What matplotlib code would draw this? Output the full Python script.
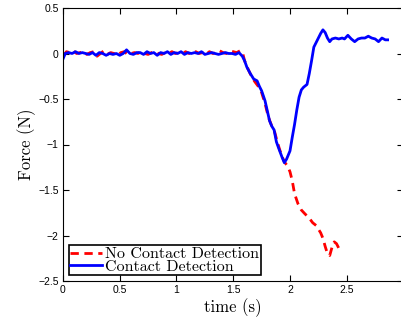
import matplotlib
matplotlib.use("Agg")
import matplotlib.pyplot as plt

# contact detection run
blue_t = [0.00, 0.02, 0.05, 0.08, 0.11, 0.14, 0.17, 0.20, 0.23, 0.26, 0.29, 0.32, 0.35,
          0.38, 0.41, 0.44, 0.47, 0.50, 0.53, 0.56, 0.59, 0.62, 0.65, 0.68, 0.71, 0.74,
          0.77, 0.80, 0.83, 0.86, 0.89, 0.92, 0.95, 0.98, 1.01, 1.04, 1.07, 1.10, 1.13,
          1.16, 1.19, 1.22, 1.25, 1.28, 1.31, 1.34, 1.37, 1.40, 1.43, 1.46, 1.49, 1.52,
          1.55, 1.58, 1.60, 1.62, 1.65, 1.68, 1.71, 1.73, 1.75, 1.78, 1.80, 1.82, 1.84,
          1.86, 1.88, 1.90, 1.93, 1.95, 1.97, 2.00, 2.02, 2.04, 2.06, 2.08, 2.10, 2.12,
          2.15, 2.17, 2.19, 2.21, 2.23, 2.25, 2.27, 2.29, 2.31, 2.33, 2.35, 2.37, 2.40,
          2.43, 2.46, 2.48, 2.51, 2.54, 2.57, 2.60, 2.63, 2.66, 2.69, 2.72, 2.75, 2.78,
          2.81, 2.84, 2.86]
blue_f = [-0.06, 0.00, 0.01, 0.00, 0.02, 0.00, 0.01, 0.00, -0.01, 0.01, -0.02, 0.01, 0.00,
          -0.02, 0.00, -0.01, 0.00, -0.02, 0.00, 0.04, 0.00, -0.01, 0.01, 0.01, -0.01, 0.02,
          0.00, 0.01, -0.02, 0.01, 0.00, 0.02, -0.01, 0.01, 0.00, 0.02, -0.01, 0.01, 0.00,
          0.01, 0.00, 0.02, -0.01, 0.00, 0.01, 0.00, -0.01, 0.00, 0.01, 0.00, 0.00, -0.01,
          0.01, -0.03, -0.08, -0.15, -0.22, -0.28, -0.30, -0.36, -0.41, -0.52, -0.63, -0.74, -0.80,
          -0.84, -0.97, -1.04, -1.14, -1.20, -1.16, -1.07, -0.92, -0.78, -0.62, -0.48, -0.40, -0.37,
          -0.34, -0.22, -0.08, 0.07, 0.12, 0.17, 0.22, 0.26, 0.23, 0.17, 0.13, 0.16, 0.17,
          0.16, 0.17, 0.16, 0.20, 0.16, 0.13, 0.16, 0.17, 0.17, 0.19, 0.17, 0.16, 0.13,
          0.17, 0.15, 0.15]

# no contact detection run
red_t = [0.00, 0.03, 0.06, 0.09, 0.12, 0.15, 0.18, 0.21, 0.24, 0.27, 0.30, 0.33, 0.36,
         0.39, 0.42, 0.45, 0.48, 0.51, 0.54, 0.57, 0.60, 0.63, 0.66, 0.69, 0.72, 0.75,
         0.78, 0.81, 0.84, 0.87, 0.90, 0.93, 0.96, 0.99, 1.02, 1.05, 1.08, 1.11, 1.14,
         1.17, 1.20, 1.23, 1.26, 1.29, 1.32, 1.35, 1.38, 1.41, 1.44, 1.47, 1.50, 1.53,
         1.56, 1.58, 1.60, 1.63, 1.66, 1.69, 1.72, 1.75, 1.78, 1.81, 1.84, 1.86, 1.89,
         1.91, 1.93, 1.95, 1.98, 2.00, 2.02, 2.04, 2.07, 2.10, 2.13, 2.17, 2.20, 2.23,
         2.25, 2.27, 2.29, 2.31, 2.33, 2.35, 2.37, 2.39, 2.41, 2.43, 2.45]
red_f = [-0.03, 0.02, 0.01, 0.03, 0.00, 0.01, 0.02, -0.01, 0.01, 0.02, -0.03, 0.00, 0.03,
         -0.01, 0.01, 0.00, -0.02, 0.01, 0.02, -0.01, 0.00, 0.01, 0.00, 0.02, 0.00, -0.01,
         0.01, 0.02, 0.00, -0.01, 0.01, 0.00, 0.02, 0.00, 0.01, -0.01, 0.02, 0.00, 0.01,
         0.02, 0.00, 0.01, -0.01, 0.02, 0.00, 0.01, 0.03, 0.01, 0.00, 0.03, 0.02, 0.01,
         0.03, 0.02, -0.08, -0.17, -0.25, -0.31, -0.36, -0.43, -0.55, -0.70, -0.80, -0.84, -0.98,
         -1.06, -1.13, -1.19, -1.24, -1.30, -1.40, -1.54, -1.65, -1.72, -1.76, -1.81, -1.86, -1.89,
         -1.93, -1.97, -2.03, -2.12, -2.20, -2.22, -2.13, -2.07, -2.09, -2.14, -2.18]

xticks = [0, 0.5, 1, 1.5, 2, 2.5, 3]
yticks = [0.5, 0, -0.5, -1, -1.5, -2, -2.5]

plt.rcParams['font.family'] = ['Liberation Sans', 'DejaVu Sans']

fig = plt.figure(figsize=(4.02, 3.2), dpi=100)
ax = fig.add_axes([63 / 402, 39 / 320, 340.5 / 402, 273 / 320])

ax.plot(red_t, red_f, 'r--', lw=2, dashes=(3, 2), label='No Contact Detection')
ax.plot(blue_t, blue_f, 'b-', lw=2, label='Contact Detection')

ax.set_xlim(0, 3)
ax.set_ylim(-2.5, 0.5)
ax.set_xticks(xticks)
ax.set_xticklabels(['0', '0.5', '1', '1.5', '2', '2.5', '3'])
ax.set_yticks(yticks)
ax.set_yticklabels(['0.5', '0', '\u22120.5', '\u22121', '\u22121.5', '\u22122', '\u22122.5'])
ax.tick_params(direction='in', top=True, right=True, length=4, labelsize=7.5, pad=3)

ax.set_xlabel('time (s)', family='cmr10', fontsize=12, labelpad=2)
ax.set_ylabel('Force (N)', family='cmr10', fontsize=12, labelpad=2)

leg = ax.legend(loc='lower left', prop={'family': 'cmr10', 'size': 11.5},
                fancybox=False, edgecolor='black', framealpha=1,
                borderpad=0.1, labelspacing=-0.1, handlelength=2.0, handletextpad=0.2,
                borderaxespad=0.35)
leg.get_frame().set_linewidth(1.2)

fig.savefig('out.png', dpi=100)
